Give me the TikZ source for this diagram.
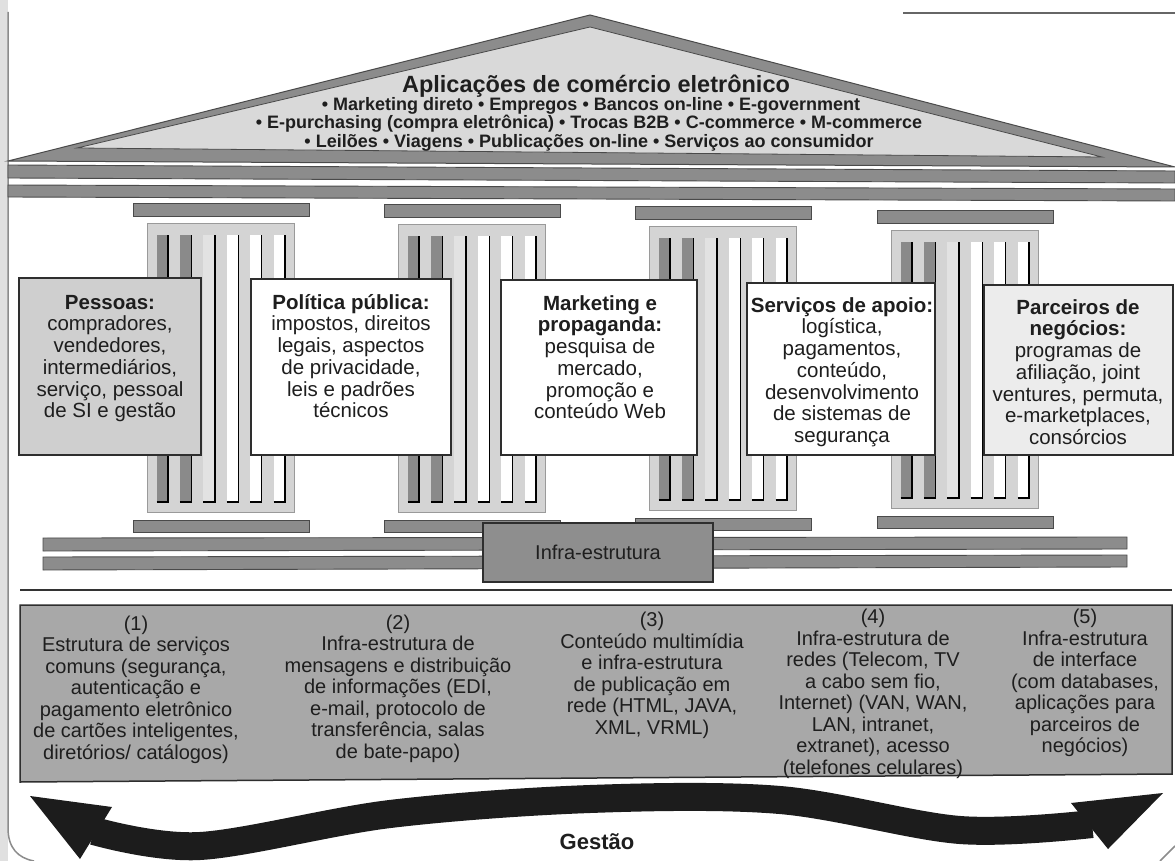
\documentclass[tikz,border=0pt]{standalone}
\usepackage{fontspec}
\setmainfont{Liberation Sans}
\definecolor{barg}{HTML}{8C8C8C}
\definecolor{bardk}{HTML}{4A4A4A}
\definecolor{colg}{HTML}{D4D4D4}
\definecolor{colbd}{HTML}{9A9A9A}
\definecolor{stripeg}{HTML}{8A8A8A}
\definecolor{stripel}{HTML}{E2E2E2}
\definecolor{roofin}{HTML}{D9D9D9}
\definecolor{boxbd}{HTML}{2E2E2E}
\definecolor{boxa}{HTML}{CFCFCF}
\definecolor{boxe}{HTML}{ECECEC}
\definecolor{bandg}{HTML}{A8A8A8}
\definecolor{infrag}{HTML}{8E8E8E}
\definecolor{arrowc}{HTML}{1C1C1C}
\definecolor{txtc}{HTML}{1E1E1E}
\begin{document}
\begin{tikzpicture}[x=1pt,y=-1pt,
  bar/.style={fill=barg, draw=bardk, line width=0.9pt},
  colbody/.style={fill=colg, draw=colbd, line width=0.8pt},
  pbox/.style={draw=boxbd, line width=1.5pt, inner sep=0pt},
  btxt/.style={font=\fontsize{20.5}{21.7}\selectfont, align=center, inner sep=0pt, text=txtc},
  ltxt/.style={font=\fontsize{20}{21.5}\selectfont, align=center, inner sep=0pt, text=txtc},
  rooft/.style={font=\bfseries\fontsize{23.5}{26}\selectfont, inner sep=0pt, text=txtc},
  roofl/.style={font=\bfseries\fontsize{18}{20}\selectfont, inner sep=0pt, text=txtc},
  framec/.style={draw=black!45, line width=1.5pt}
]
\useasboundingbox (0,0) rectangle (1175,861);
\fill[white] (0,0) rectangle (1175,861);
% page edges
\fill[black!12] (0,0) rectangle (8,861);
\draw[framec] (8,12) -- (8,828) .. controls (8,848) and (18,858) .. (34,861);
\draw[draw=black!60, line width=2.5pt] (903,13) -- (1175,13);
\draw[framec] (1160,861) -- (1175,846);

% roof
\draw[fill=barg, draw=bardk, line width=1pt] (8,161) -- (590,15) -- (1175,167) -- cycle;
\draw[fill=roofin, draw=bardk, line width=0.8pt] (77,148) -- (590,27) -- (1102,157) -- cycle;
% bands under roof
\draw[bar] (8,165) -- (1175,171) -- (1175,183) -- (8,178) -- cycle;
\draw[bar] (8,185) -- (1175,189) -- (1175,201) -- (8,197) -- cycle;

% columns
\foreach \cx/\ct/\cb in {147/0/0, 398/1/0, 649/3/-2, 891/7/-4} {
  \draw[bar] ({\cx-14},{203+\ct}) rectangle ({\cx+162},{216+\ct});
  \draw[colbody] (\cx,{223+\ct}) rectangle ({\cx+147},{512+\cb});
  \foreach \i/\f in {0/stripeg,1/stripeg,2/stripel,3/white,4/white,5/white} {
    \fill[\f] ({\cx+9.5+23.4*\i},{235+\ct}) rectangle ({\cx+21+23.4*\i},{502+\cb});
    \draw[black, line width=1.4pt] ({\cx+9.5+23.4*\i},{502+\cb}) -- ({\cx+21+23.4*\i},{502+\cb}) -- ({\cx+21+23.4*\i},{235+\ct});
  }
  \draw[bar] ({\cx-14},{520+\cb}) rectangle ({\cx+162},{532+\cb});
}

% boxes
\node[pbox, fill=boxa, minimum width=182pt, minimum height=177pt] (b1) at (110,366.5) {};
\node[pbox, fill=white, minimum width=200pt, minimum height=176pt] (b2) at (351,367) {};
\node[pbox, fill=white, minimum width=196pt, minimum height=175pt] (b3) at (599,367.5) {};
\node[pbox, fill=white, minimum width=188pt, minimum height=172pt] (b4) at (841,369) {};
\node[pbox, fill=boxe, minimum width=189pt, minimum height=170pt] (b5) at (1078.5,370) {};

\node[btxt, anchor=north] (t1) at (110,289.5) {\rule{0pt}{19.5pt}\textbf{Pessoas:}\\compradores,\\vendedores,\\intermediários,\\serviço, pessoal\\de SI e gestão};
\node[btxt, anchor=north] (t2) at (351,289.5) {\rule{0pt}{19.5pt}\textbf{Política pública:}\\impostos, direitos\\legais, aspectos\\de privacidade,\\leis e padrões\\técnicos};
\node[btxt, anchor=north] (t3) at (600,290.5) {\rule{0pt}{19.5pt}\textbf{Marketing e}\\\textbf{propaganda:}\\pesquisa de\\mercado,\\promoção e\\conteúdo Web};
\node[btxt, anchor=north] (t4) at (842,292.5) {\rule{0pt}{19.5pt}\textbf{Serviços de apoio:}\\logística,\\pagamentos,\\conteúdo,\\desenvolvimento\\de sistemas de\\segurança};
\node[btxt, anchor=north] (t5) at (1078,294.5) {\rule{0pt}{19.5pt}\textbf{Parceiros de}\\\textbf{negócios:}\\programas de\\afiliação, joint\\ventures, permuta,\\e-marketplaces,\\consórcios};

% infrastructure bars and box
\draw[bar] (43,538) -- (1127,537) -- (1127,549) -- (43,551) -- cycle;
\draw[bar] (43,557) -- (1127,555) -- (1127,567) -- (43,570) -- cycle;
\node[pbox, fill=infrag, minimum width=230pt, minimum height=59pt, font=\fontsize{20}{22}\selectfont, text=txtc] (inf) at (598,552.5) {Infra-estrutura};

% separator line
\draw[draw=black!80, line width=2pt] (20,590) -- (1172,590);

% bottom band
\draw[fill=bandg, draw=boxbd, line width=1.5pt] (20,605) -- (1172,605) -- (1172,774) -- (20,782) -- cycle;
\node[ltxt, anchor=north] (l1) at (136,610.5) {\rule{0pt}{19.5pt}(1)\\Estrutura de serviços\\comuns (segurança,\\autenticação e\\pagamento eletrônico\\de cartões inteligentes,\\diretórios/ catálogos)};
\node[ltxt, anchor=north] (l2) at (398,609.5) {\rule{0pt}{19.5pt}(2)\\Infra-estrutura de\\mensagens e distribuição\\de informações (EDI,\\e-mail, protocolo de\\transferência, salas\\de bate-papo)};
\node[ltxt, anchor=north] (l3) at (652,607) {\rule{0pt}{19.5pt}(3)\\Conteúdo multimídia\\e infra-estrutura\\de publicação em\\rede (HTML, JAVA,\\XML, VRML)};
\node[ltxt, anchor=north] (l4) at (873,604) {\rule{0pt}{19.5pt}(4)\\Infra-estrutura de\\redes (Telecom, TV\\a cabo sem fio,\\Internet) (VAN, WAN,\\LAN, intranet,\\extranet), acesso\\(telefones celulares)};
\node[ltxt, anchor=north] (l5) at (1085,604) {\rule{0pt}{19.5pt}(5)\\Infra-estrutura\\de interface\\(com databases,\\aplicações para\\parceiros de\\negócios)};

% roof texts
\node[rooft, anchor=base] (rt) at (596,93) {Aplicações de comércio eletrônico};
\node[roofl, anchor=base] (r1) at (591,110.5) {• Marketing direto • Empregos • Bancos on-line • E-government};
\node[roofl, anchor=base] (r2) at (589,129) {• E-purchasing (compra eletrônica) • Trocas B2B • C-commerce • M-commerce};
\node[roofl, anchor=base] (r3) at (589,147.5) {• Leilões • Viagens • Publicações on-line • Serviços ao consumidor};

% management arrow
\coordinate (aL) at (30,796);
\coordinate (aR) at (1163,793);
\fill[arrowc] (aL) -- (112,807) -- (80,859) -- cycle;
\fill[arrowc] (aR) -- (1071,803) -- (1108,849) -- cycle;
\draw[arrowc, line width=28pt] plot[smooth, tension=0.55] coordinates {(94,831) (200,846) (390,814) (590,799) (780,800) (960,830) (1092,824)};
\node[font=\bfseries\fontsize{22}{24}\selectfont, text=txtc, inner sep=0pt] (g) at (597,842) {Gestão};
\end{tikzpicture}
\end{document}
